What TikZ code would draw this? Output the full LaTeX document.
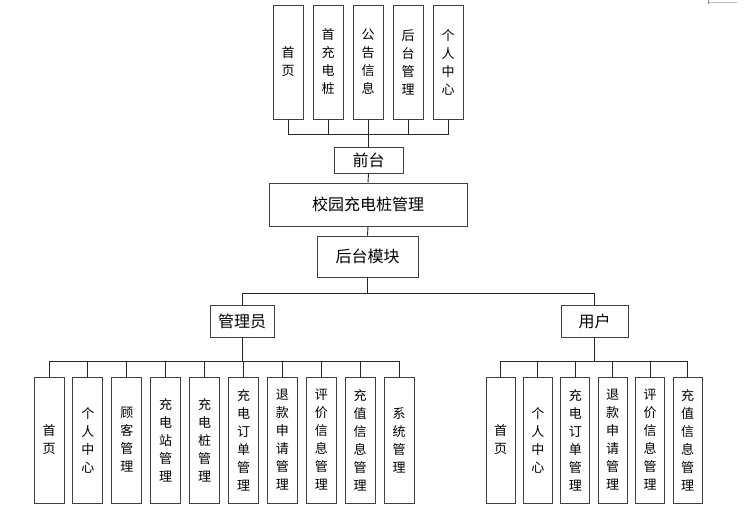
\documentclass[tikz,border=0pt]{standalone}
\usepackage{fontspec}
\setmainfont{Noto Sans CJK SC}
\usetikzlibrary{shapes,arrows}

\begin{document}
\begin{tikzpicture}[x=1pt,y=1pt,
	vbox/.style={draw=black!75, line width=0.9pt, fill=white, align=center, inner sep=0pt,
		minimum width=30pt, font=\fontsize{13}{18}\selectfont},
	topbox/.style={vbox, minimum height=114pt},
	leafbox/.style={vbox, minimum height=126pt},
	hbox/.style={draw=black!75, line width=0.9pt, fill=white, inner sep=0pt,
		font=\fontsize{16}{18}\selectfont},
	wire/.style={draw=black!85, line width=0.9pt}]
	\useasboundingbox (0,0) rectangle (745,-520);
	%page mark
	\draw[gray!50, line width=0.6pt] (708,-2) -- (737,-2);
	\draw[gray, line width=0.6pt] (708,0) -- (708,-4);

	%front pages
	\node[topbox] (front1) at (288,-62) {首\\页};
	\node[topbox] (front2) at (328,-62) {首\\充\\电\\桩};
	\node[topbox] (front3) at (368,-62) {公\\告\\信\\息};
	\node[topbox] (front4) at (408,-62) {后\\台\\管\\理};
	\node[topbox] (front5) at (448,-62) {个\\人\\中\\心};
	%main chain
	\node[hbox, minimum width=69pt, minimum height=26pt] (qiantai) at (368.5,-160) {前台};
	\node[hbox, minimum width=198pt, minimum height=43pt] (system) at (368,-204.5) {校园充电桩管理};
	\node[hbox, minimum width=101pt, minimum height=41pt] (houtai) at (367.5,-256.5) {后台模块};
	%roles
	\node[hbox, minimum width=64pt, minimum height=32pt] (admin) at (242,-321) {管理员};
	\node[hbox, minimum width=67pt, minimum height=32pt] (user) at (594.5,-321) {用户};

	%admin modules
	\node[leafbox] (admin1) at (49,-440) {首\\页};
	\node[leafbox] (admin2) at (87.9,-440) {个\\人\\中\\心};
	\node[leafbox] (admin3) at (126.8,-440) {顾\\客\\管\\理};
	\node[leafbox] (admin4) at (165.7,-440) {充\\电\\站\\管\\理};
	\node[leafbox] (admin5) at (204.6,-440) {充\\电\\桩\\管\\理};
	\node[leafbox] (admin6) at (243.5,-440) {充\\电\\订\\单\\管\\理};
	\node[leafbox] (admin7) at (282.4,-440) {退\\款\\申\\请\\管\\理};
	\node[leafbox] (admin8) at (321.3,-440) {评\\价\\信\\息\\管\\理};
	\node[leafbox] (admin9) at (360.2,-440) {充\\值\\信\\息\\管\\理};
	\node[leafbox] (admin10) at (399.1,-440) {系\\统\\管\\理};
	%user modules
	\node[leafbox, minimum width=29pt] (user1) at (500.5,-440) {首\\页};
	\node[leafbox, minimum width=29pt] (user2) at (537.9,-440) {个\\人\\中\\心};
	\node[leafbox, minimum width=29pt] (user3) at (575.3,-440) {充\\电\\订\\单\\管\\理};
	\node[leafbox, minimum width=29pt] (user4) at (612.7,-440) {退\\款\\申\\请\\管\\理};
	\node[leafbox, minimum width=29pt] (user5) at (650.1,-440) {评\\价\\信\\息\\管\\理};
	\node[leafbox, minimum width=29pt] (user6) at (687.5,-440) {充\\值\\信\\息\\管\\理};

	%junctions
	\coordinate (frontbus) at (368.5,-134);
	\coordinate (rolebus) at (367.5,-293);
	\coordinate (adminbus) at (242,-361);
	\coordinate (userbus) at (594.5,-361);

	%front wires
	\draw[wire] (front1.south) |- (frontbus);
	\draw[wire] (front2.south) |- (frontbus);
	\draw[wire] (front3.south) |- (frontbus);
	\draw[wire] (front4.south) |- (frontbus);
	\draw[wire] (front5.south) |- (frontbus);
	\draw[wire] (frontbus) -- (qiantai.north);
	\draw[wire] (qiantai.south) -- (system.north);
	\draw[wire] (system.south) -- (houtai.north);
	%role wires
	\draw[wire] (houtai.south) -- (rolebus);
	\draw[wire] (rolebus) -| (admin.north);
	\draw[wire] (rolebus) -| (user.north);
	%admin wires
	\draw[wire] (admin.south) -- (adminbus);
	\draw[wire] (adminbus) -| (admin1.north);
	\draw[wire] (adminbus) -| (admin2.north);
	\draw[wire] (adminbus) -| (admin3.north);
	\draw[wire] (adminbus) -| (admin4.north);
	\draw[wire] (adminbus) -| (admin5.north);
	\draw[wire] (adminbus) -| (admin6.north);
	\draw[wire] (adminbus) -| (admin7.north);
	\draw[wire] (adminbus) -| (admin8.north);
	\draw[wire] (adminbus) -| (admin9.north);
	\draw[wire] (adminbus) -| (admin10.north);
	%user wires
	\draw[wire] (user.south) -- (userbus);
	\draw[wire] (userbus) -| (user1.north);
	\draw[wire] (userbus) -| (user2.north);
	\draw[wire] (userbus) -| (user3.north);
	\draw[wire] (userbus) -| (user4.north);
	\draw[wire] (userbus) -| (user5.north);
	\draw[wire] (userbus) -| (user6.north);
\end{tikzpicture}
\end{document}
